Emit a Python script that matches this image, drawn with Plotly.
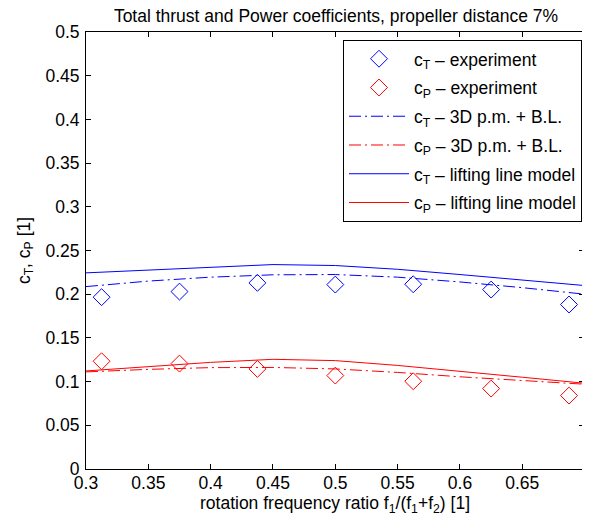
import plotly.graph_objects as go

# Experimental points
x_exp = [0.3125, 0.375, 0.4375, 0.5, 0.5625, 0.625, 0.6875]
ct_exp = [0.1966, 0.2030, 0.2130, 0.2110, 0.2114, 0.2053, 0.1882]
cp_exp = [0.1233, 0.1206, 0.1145, 0.1069, 0.1004, 0.0920, 0.0840]

# Model curves
x_mod = [0.3, 0.35, 0.4, 0.45, 0.5, 0.55, 0.6, 0.65, 0.7]
ct_3d = [0.2087, 0.2150, 0.2195, 0.2222, 0.2225, 0.2195, 0.2140, 0.2075, 0.2000]
cp_3d = [0.1111, 0.1140, 0.1160, 0.1162, 0.1145, 0.1105, 0.1055, 0.1010, 0.0970]
ct_ll = [0.2244, 0.2275, 0.2310, 0.2339, 0.2328, 0.2285, 0.2225, 0.2165, 0.2099]
cp_ll = [0.1122, 0.1175, 0.1220, 0.1255, 0.1240, 0.1185, 0.1120, 0.1050, 0.0981]

x_ticks = [0.3, 0.35, 0.4, 0.45, 0.5, 0.55, 0.6, 0.65]
y_ticks = [0, 0.05, 0.1, 0.15, 0.2, 0.25, 0.3, 0.35, 0.4, 0.45, 0.5]

BLUE = "rgb(0,0,255)"
RED = "rgb(255,0,0)"
FONT = "Liberation Sans, Arial, Helvetica, sans-serif"
DASHDOT = "12px,4px,2px,4px"
FS = 17.5

fig = go.Figure()
fig.add_trace(go.Scatter(x=x_exp, y=ct_exp, mode="markers", name="c<sub>T</sub> – experiment", legendgroup="a",
                         marker=dict(symbol="diamond-open", size=13, color=BLUE, line=dict(width=1, color=BLUE))))
fig.add_trace(go.Scatter(x=x_exp, y=cp_exp, mode="markers", name="c<sub>P</sub> – experiment", legendgroup="b",
                         marker=dict(symbol="diamond-open", size=13, color=RED, line=dict(width=1, color=RED))))
fig.add_trace(go.Scatter(x=x_mod, y=ct_3d, mode="lines", name="c<sub>T</sub> – 3D p.m. + B.L.", legendgroup="c",
                         line=dict(color=BLUE, width=1, dash=DASHDOT)))
fig.add_trace(go.Scatter(x=x_mod, y=cp_3d, mode="lines", name="c<sub>P</sub> – 3D p.m. + B.L.", legendgroup="d",
                         line=dict(color=RED, width=1, dash=DASHDOT)))
fig.add_trace(go.Scatter(x=x_mod, y=ct_ll, mode="lines", name="c<sub>T</sub> – lifting line model", legendgroup="e",
                         line=dict(color=BLUE, width=1)))
fig.add_trace(go.Scatter(x=x_mod, y=cp_ll, mode="lines", name="c<sub>P</sub> – lifting line model", legendgroup="f",
                         line=dict(color=RED, width=1)))

axis_common = dict(showline=True, linecolor="black", linewidth=1, mirror="ticks",
                   ticks="inside", ticklen=5, tickcolor="black", showgrid=False, zeroline=False,
                   automargin=False,
                   tickfont=dict(family=FONT, size=FS, color="black"))

# The page body has an 8px margin, so the figure is offset by (8, 8)
fig.update_layout(
    width=582, height=515,
    margin=dict(l=78, r=6, t=24, b=54),
    paper_bgcolor="white", plot_bgcolor="white",
    font=dict(family=FONT, color="black"),
    title=dict(text="Total thrust and Power coefficients, propeller distance 7%",
               x=328 / 582, xanchor="center", xref="container",
               y=1 - 2 / 515, yanchor="top", yref="container", pad=dict(t=0, b=0),
               font=dict(family=FONT, size=FS, color="black")),
    xaxis=dict(range=[0.3, 0.6995], tickvals=x_ticks, ticktext=[f"{v:g}" for v in x_ticks],
               title=dict(text="rotation frequency ratio f<sub>1</sub>/(f<sub>1</sub>+f<sub>2</sub>) [1]",
                          font=dict(family=FONT, size=FS), standoff=4),
               ticklabelstandoff=-2,
               **axis_common),
    yaxis=dict(range=[0, 0.5], tickvals=y_ticks, ticktext=[f"{v:g}" for v in y_ticks],
               title=dict(text="c<sub>T</sub>, c<sub>P</sub> [1]", font=dict(family=FONT, size=FS), standoff=10),
               ticklabelstandoff=2,
               **axis_common),
    legend=dict(x=0.996, xanchor="right", y=0.982, yanchor="top",
                bgcolor="white", bordercolor="black", borderwidth=1,
                font=dict(family=FONT, size=FS, color="black"), itemwidth=60,
                tracegroupgap=3),
    showlegend=True,
)

fig.write_html("out.html")
